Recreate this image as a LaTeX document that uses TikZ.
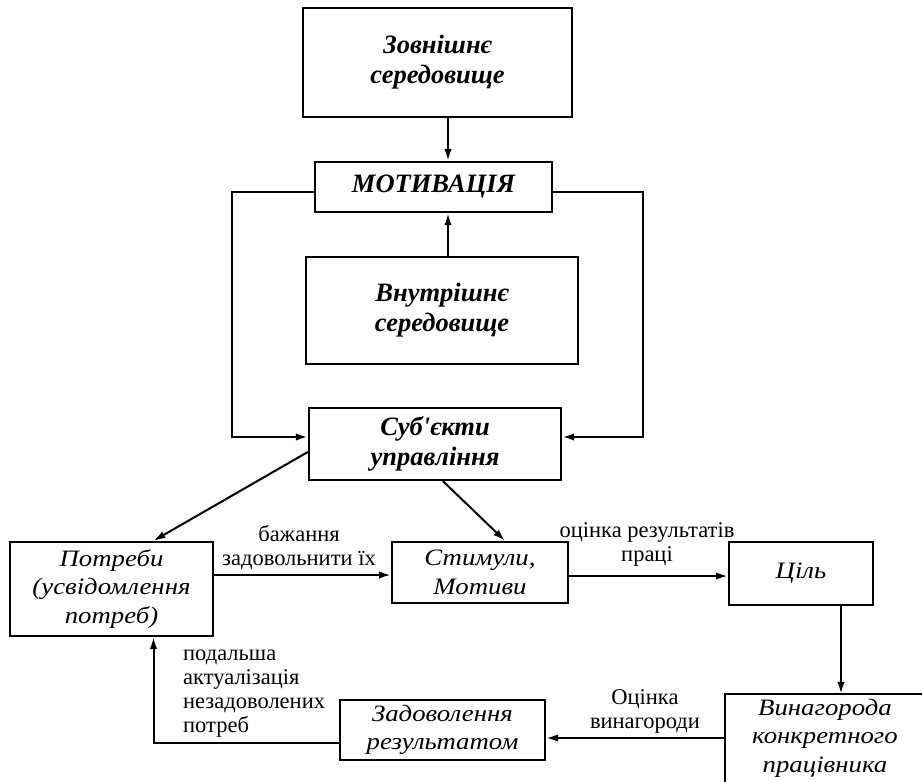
\documentclass[tikz,border=0pt]{standalone}
\usepackage{fontspec}
\setmainfont{Liberation Serif}
\newfontfamily\wideit{Liberation Serif}[FakeStretch=1.14]
\usetikzlibrary{arrows.meta}
\tikzset{
  box/.style={draw, line width=2.4pt, inner sep=0pt, align=center},
  topbox/.style={box, font=\fontsize{26.5}{30}\selectfont\bfseries\itshape},
  lowbox/.style={box, font=\fontsize{23.5}{28.5}\wideit\itshape},
  lbl/.style={font=\fontsize{22.5}{24}\selectfont, inner sep=0pt},
  arr/.style={line width=2pt, -{Latex[length=12pt,width=7.5pt]}},
  looparr/.style={line width=2.6pt, -{Latex[length=12pt,width=7.5pt]}},
}
\begin{document}
\begin{tikzpicture}[x=1pt,y=-1pt]
\useasboundingbox (0,0) rectangle (922,782);
\fill[white] (0,0) rectangle (922,782);
% boxes
\node[topbox, minimum width=269pt, minimum height=109pt] (zovn) at (437.5,62.5) {Зовнішнє\\середовище};
\node[topbox, minimum width=237pt, minimum height=50pt] (motyv) at (433.5,187) {МОТИВАЦІЯ};
\node[topbox, minimum width=272pt, minimum height=107pt] (vnutr) at (442,310.5) {Внутрішнє\\середовище};
\node[topbox, minimum width=252pt, minimum height=72pt] (sub) at (435,444) {Суб\textquotesingle єкти\\управління};
\node[lowbox, minimum width=203pt, minimum height=94pt] (potr) at (111.5,589) {Потреби\\(усвідомлення\\потреб)};
\node[lowbox, minimum width=176pt, minimum height=61pt] (stym) at (480,572.5) {Стимули,\\Мотиви};
\node[lowbox, minimum width=144pt, minimum height=63pt] (tsil) at (801,573.5) {Ціль};
\node[lowbox, draw=none, minimum width=198pt, minimum height=86pt] (vyn) at (825,738) {Винагорода\\конкретного\\працівника};
\draw[line width=2.4pt] ([yshift=-20pt]vyn.south west) -- (vyn.north west) -- ([xshift=20pt]vyn.north east);
\node[lowbox, minimum width=205pt, minimum height=60pt] (zad) at (442.5,730) {Задоволення\\результатом};
% labels
\node[lbl, align=center] (l1) at (299,548) {бажання\\задовольнити їх};
\node[lbl, align=center] (l2) at (647,544) {оцінка результатів\\праці};
\node[lbl, align=center] (l3) at (645,711) {Оцінка\\винагороди};
\node[lbl, align=left, anchor=west] (l4) at (183,694) {подальша\\актуалізація\\незадоволених\\потреб};
% helper coordinates
\coordinate (Lx) at (232,0);
\coordinate (Rx) at (643,0);
% connectors
\draw[arr] ([xshift=10.5pt]zovn.south) -- ([xshift=10.5pt]zovn.south |- motyv.north);
\draw[arr] ([xshift=6pt]vnutr.north) -- ([xshift=6pt]vnutr.north |- motyv.south);
\draw[looparr] ([yshift=-5pt]motyv.west) -- ([yshift=-5pt]motyv.west -| Lx) |- ([yshift=7pt]sub.west);
\draw[looparr] ([yshift=-5pt]motyv.east) -- ([yshift=-5pt]motyv.east -| Rx) |- ([yshift=7pt]sub.east);
\draw[arr] ([yshift=-8pt]sub.west) -- ([xshift=42pt]potr.north);
\draw[arr] ([xshift=8pt]sub.south) -- ([xshift=25pt]stym.north);
\draw[arr] ([yshift=-2.5pt]stym.west -| potr.east) -- ([yshift=-2.5pt]stym.west);
\draw[arr] ([yshift=-2.5pt]tsil.west -| stym.east) -- ([yshift=-2.5pt]tsil.west);
\draw[arr] ([xshift=40pt]tsil.south) -- ([xshift=40pt]tsil.south |- vyn.north);
\draw[arr] (vyn.west) -- (vyn.west -| zad.east);
\draw[arr] ([yshift=-13pt]zad.west) -| ([xshift=42pt]potr.south);
\end{tikzpicture}
\end{document}
